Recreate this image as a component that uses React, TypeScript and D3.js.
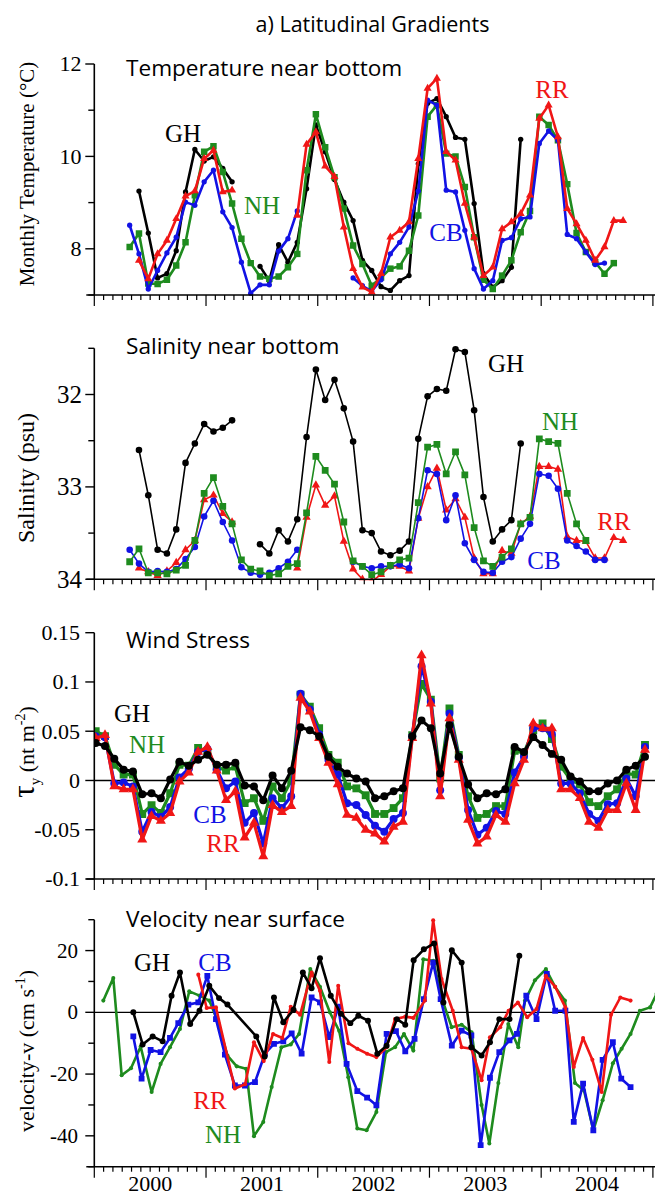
import React from "react";
import * as d3 from "d3";

const WIDTH = 655;
const HEIGHT = 1197;

// x axis: months since Jan 2000
const MONTH_DOMAIN: [number, number] = [0, 60];
const YEAR_LABELS = ["2000", "2001", "2002", "2003", "2004"];

// ---------- Temperature near bottom (°C), monthly, first month index given ----------
const TEMP_GH_START = 4;
const TEMP_GH = [9.25, 8.34, 7.37, 7.46, 7.96, 9.23, 10.15, 9.9, 9.99, 9.74, 9.45, null, null, 7.62, 7.31, 8.09, 7.71, 8.14, 9.3, 10.68, 10.1, 9.5, 9.01, 8.61, 7.75, 7.53, 7.18, 7.1, 7.31, 7.42, 9.84, 11.15, 11.25, 10.86, 10.41, 10.37, 8.98, 7.46, 7.17, 7.31, 7.6, 10.37];
const TEMP_NH_START = 3;
const TEMP_NH = [8.04, 8.33, 7.25, 7.24, 7.33, 7.64, 8.14, 9.16, 10.1, 10.22, 9.66, 8.98, 8.22, 7.69, 7.4, 7.35, 7.4, 7.6, 7.89, 9.7, 10.91, 10.2, 9.55, 8.87, 8.07, 7.67, 7.2, 7.38, 7.57, 7.62, 7.96, 8.72, 10.86, 11.11, 10.06, 10.0, 9.34, 8.25, 7.33, 7.13, 7.42, 7.75, 8.36, 8.82, 10.86, 10.68, 10.35, 9.4, 8.34, 7.93, 7.71, 7.46, 7.69];
const TEMP_CB_START = 3;
const TEMP_CB = [8.51, 7.89, 7.13, 7.53, 7.91, 8.25, 9.01, 8.94, 9.45, 9.7, 8.8, 8.46, 7.71, 7.04, 7.22, 7.22, 7.95, 8.22, 8.82, null, null, null, null, null, 7.37, 7.2, 7.08, 7.33, 7.89, 8.14, 8.47, 9.25, 11.22, 11.11, 9.27, 9.23, 8.4, 7.57, 7.13, 7.31, 8.18, 8.24, 8.65, 8.69, 10.28, 10.55, 10.35, 8.31, 8.22, 7.93, 7.66, 7.69];
const TEMP_RR_START = 4;
const TEMP_RR = [7.75, 7.35, 7.89, 8.18, 8.65, 9.14, 9.25, 9.95, 10.13, 9.23, 9.27, null, null, null, null, null, null, 8.72, 10.26, 10.53, 9.79, 9.56, 8.47, 7.57, 7.17, 7.06, 7.46, 8.25, 8.4, 8.58, 9.95, 11.47, 11.69, 10.1, 9.92, 8.98, 8.25, 7.42, 7.6, 8.43, 8.58, 8.76, 9.16, 10.82, 11.11, 10.42, 8.87, 8.54, 8.18, 7.75, 8.04, 8.61, 8.61];

// ---------- Salinity near bottom (psu) ----------
const SAL_GH_START = 4;
const SAL_GH = [32.6, 33.09, 33.68, 33.72, 33.46, 32.74, 32.53, 32.32, 32.4, 32.36, 32.28, null, null, 33.62, 33.72, 33.47, 33.59, 33.35, 32.46, 31.73, 32.06, 31.84, 32.15, 32.51, 33.47, 33.5, 33.7, 33.74, 33.69, 33.59, 32.48, 32.02, 31.94, 31.96, 31.51, 31.54, 32.17, 33.11, 33.59, 33.46, 33.36, 32.53];
const SAL_NH_START = 3;
const SAL_NH = [33.81, 33.67, 33.93, 33.93, 33.94, 33.9, 33.85, 33.58, 33.07, 32.9, 33.21, 33.4, 33.79, 33.89, 33.91, 33.96, 33.94, 33.86, 33.83, 33.28, 32.67, 32.82, 32.97, 33.38, 33.8, 33.86, 33.95, 33.92, 33.85, 33.79, 33.77, 33.17, 32.57, 32.54, 32.86, 32.62, 32.87, 33.44, 33.8, 33.86, 33.76, 33.67, 33.4, 33.33, 32.48, 32.51, 32.53, 33.07, 33.4, 33.58];
const SAL_CB_START = 3;
const SAL_CB = [33.68, 33.83, 33.92, 33.91, 33.92, 33.89, 33.78, 33.65, 33.32, 33.15, 33.38, 33.58, 33.87, 33.93, 33.95, 33.93, 33.88, 33.81, 33.68, null, null, null, null, null, 33.81, 33.86, 33.88, 33.86, 33.86, 33.84, 33.88, 33.34, 32.82, 32.86, 33.36, 33.09, 33.61, 33.79, 33.92, 33.93, 33.81, 33.76, 33.56, 33.4, 32.86, 32.88, 33.02, 33.58, 33.64, 33.7, 33.79, 33.79];
const SAL_RR_START = 4;
const SAL_RR = [33.88, 33.92, 33.96, 33.91, 33.82, 33.68, 33.58, 33.14, 33.09, 33.29, 33.38, null, null, null, null, null, null, 33.88, 33.33, 32.98, 33.2, 33.1, 33.59, 33.89, 34.0, 34.02, 33.95, 33.86, 33.86, 33.91, 33.34, 33.0, 32.8, 33.25, 33.13, 33.33, 33.77, 33.94, 33.94, 33.69, 33.72, 33.4, 33.32, 32.78, 32.78, 32.81, 33.54, 33.58, 33.59, 33.77, 33.77, 33.55, 33.58];

// ---------- Wind stress tau_y (N m-2), monthly from Jan 2000 ----------
const WIND_START = 0;
const WIND_GH = [0.038, 0.035, 0.022, 0.011, 0.009, -0.014, -0.013, -0.018, 0.001, 0.019, 0.015, 0.021, 0.026, 0.016, 0.016, 0.018, -0.005, -0.006, -0.02, 0.005, -0.008, 0.01, 0.054, 0.051, 0.045, 0.024, 0.014, 0.007, 0.002, -0.001, -0.018, -0.016, -0.011, -0.008, 0.045, 0.061, 0.053, 0.007, 0.056, 0.024, -0.004, -0.018, -0.013, -0.014, -0.009, 0.034, 0.029, 0.044, 0.036, 0.027, 0.021, 0.004, -0.001, -0.011, -0.011, -0.003, 0, 0.011, 0.015, 0.024];
const WIND_NH = [0.05, 0.045, 0.016, 0.006, 0.006, -0.034, -0.025, -0.033, -0.013, 0.016, 0.015, 0.033, 0.029, 0.014, 0.01, 0.014, -0.023, -0.018, -0.041, -0.006, -0.018, 0, 0.087, 0.075, 0.053, 0.026, 0.018, -0.006, -0.008, -0.015, -0.034, -0.034, -0.028, -0.018, 0.046, 0.098, 0.082, 0.002, 0.073, 0.026, -0.016, -0.038, -0.034, -0.026, -0.026, 0.03, 0.028, 0.051, 0.058, 0.042, 0.014, 0.001, -0.004, -0.022, -0.026, -0.016, -0.009, 0.007, 0.006, 0.036];
const WIND_CB = [0.045, 0.044, -0.003, -0.002, -0.006, -0.052, -0.032, -0.037, -0.027, 0.003, 0.012, 0.029, 0.032, 0.011, -0.008, -0.001, -0.043, -0.033, -0.064, -0.018, -0.028, -0.016, 0.088, 0.072, 0.047, 0.021, 0.006, -0.023, -0.025, -0.035, -0.046, -0.052, -0.039, -0.033, 0.045, 0.116, 0.08, -0.01, 0.068, 0.023, -0.03, -0.055, -0.048, -0.031, -0.034, 0.008, 0.024, 0.053, 0.053, 0.047, -0.003, -0.003, -0.013, -0.034, -0.041, -0.024, -0.023, 0.002, -0.016, 0.034];
const WIND_RR = [0.043, 0.046, -0.006, -0.009, -0.009, -0.06, -0.036, -0.041, -0.033, -0.001, 0.008, 0.029, 0.034, 0.01, -0.02, -0.011, -0.058, -0.043, -0.077, -0.025, -0.032, -0.026, 0.084, 0.07, 0.043, 0.018, -0.004, -0.035, -0.038, -0.05, -0.054, -0.062, -0.047, -0.042, 0.043, 0.127, 0.078, -0.016, 0.063, 0.021, -0.04, -0.064, -0.057, -0.035, -0.042, -0.003, 0.021, 0.058, 0.053, 0.053, -0.009, -0.009, -0.018, -0.042, -0.048, -0.03, -0.03, -0.003, -0.03, 0.031];

// ---------- Velocity near surface (cm s-1): [months since Jan 2000, value] ----------
const VEL_NH: [number, number][] = [[0.97, 3.8], [2.04, 11.1], [2.94, -20.4], [3.94, -18.1], [4.98, -11.1], [6.16, -25.8], [7.12, -16.7], [8.13, -11.3], [9.2, -5.4], [10.2, 6.8], [11.3, 5.4], [12.35, 3.8], [13.3, -3.2], [14.3, -14], [15.3, -17.5], [16.3, -18.3], [17.15, -40.1], [18.15, -35.5], [19.05, -24.2], [20.1, -11.3], [21.1, -10.4], [22.0, -7], [23.2, 14], [24.24, 8.3], [25.3, 0], [26.3, -6], [27.28, -21], [28.25, -37.6], [29.25, -38.2], [30.3, -32.3], [31.33, -12.9], [32.3, -11.3], [33.26, -7], [34.27, -12.4], [35.34, 17.2], [36.41, 16.7], [37.3, 4.8], [38.38, -4.8], [39.46, -4], [40.53, -6.5], [41.6, -30], [42.43, -42.5], [43.4, -22.9], [44.47, -3.8], [45.54, -11.3], [46.26, 3.8], [47.33, 10.4], [48.51, 14], [49.48, 8.3], [50.55, 3.8], [51.63, -22.9], [52.6, -25.3], [53.6, -38.2], [54.6, -28.5], [55.7, -16.5], [56.64, -11.8], [57.6, -7], [58.6, 0.5], [59.7, 1.6], [60.4, 6]];
const VEL_CB: [number, number][] = [[4.19, -7.8], [5.08, -21.5], [6.05, -12.2], [7.12, -12.9], [8.13, -8.3], [9.02, -3.5], [10.1, 2.5], [11.17, 3.2], [12.14, 11.8], [13.07, -2.2], [14.03, -13.7], [15.1, -23.7], [16.18, -23.7], [17.26, -22.6], [18.33, -13.4], [19.3, -10.2], [20.3, -9.4], [21.2, -6.8], [22.27, -13.4], [23.34, 4.8], [24.24, 3.2], [25.24, -8], [26.2, 1.8], [27.1, -16.7], [28.25, -25.5], [29.3, -27.6], [30.3, -30.1], [31.4, -7], [32.4, -6.1], [33.4, -12.6], [34.4, -8.6], [35.4, 4.3], [36.4, 16.1], [37.2, 4.3], [38.4, -10.8], [39.46, -5.9], [40.5, -7.5], [41.5, -43], [42.5, -21.2], [43.5, -12.9], [44.6, -9.1], [45.4, -7], [46.4, 5.4], [47.5, -2.2], [48.6, 12.4], [49.5, 0.5], [50.6, 0.5], [51.5, -35.5], [52.5, -23.1], [53.6, -38.2], [54.6, -15.4], [55.7, -9.7], [56.6, -21.5], [57.6, -24.2]];
const VEL_RR: [number, number][] = [[11.17, 12.2], [12.07, 1.4], [13.07, 1.6], [15.1, -24.7], [16.2, -23.3], [17.15, -9.7], [18.2, -15.8], [19.2, -7], [20.2, -8.3], [21.1, 1.8], [22.1, -0.8], [23.34, 12.9], [24.24, 7], [25.24, -16.1], [26.2, 8.6], [27.3, -10], [28.25, -11.8], [29.3, -13.4], [30.3, -14.5], [31.4, -11.3], [32.3, -2.2], [33.4, -1.4], [34.27, -1.8], [35.5, 3.8], [36.4, 29.8], [37.3, 10.8], [38.5, 0.5], [39.46, -11.3], [40.5, -11.8], [41.6, -22], [42.5, -8.1], [43.6, -4.8], [44.5, 0.5], [45.5, 3.2], [46.5, -1.6], [47.5, 1.1], [48.5, 11.8], [49.5, 8.3], [50.6, 1.6], [51.5, -17.7], [52.5, -8.3], [53.5, -15.4], [54.5, -25.8], [55.5, -0.8], [56.5, 4.8], [57.6, 3.8]];
const VEL_GH: [number, number][] = [[4.19, 0], [5.19, -10.4], [6.27, -7.8], [7.34, -9.4], [8.3, 5.4], [9.2, 12.9], [10.3, -3.8], [11.3, 0.5], [12.35, 8.6], [13.4, 4.6], [14.3, 2.5], [17.4, -7.8], [18.3, -14.3], [19.3, 4.8], [20.3, -3.2], [21.4, 0.8], [22.4, 12.9], [23.34, 7.8], [24.24, 17.5], [25.4, 5.4], [26.5, -0.5], [27.5, -3.5], [28.36, -1.1], [29.4, -2.7], [30.4, -13.4], [31.4, -10.8], [32.5, -2.2], [33.4, -4], [34.3, 16.9], [35.4, 20.4], [36.5, 22.3], [37.5, 3.2], [38.4, 20.1], [39.46, 16.1], [40.5, -11.3], [41.6, -14], [42.5, -9.7], [43.5, -2.2], [44.6, -2.2], [45.65, 18.3]];

// ---------- axis ticks ----------
const TEMP_TICKS = [8, 10, 12];
const TEMP_MINOR = [7, 9, 11];
const SAL_TICKS = [32, 33, 34];
const SAL_MINOR = [31.5, 32.5, 33.5];
const WIND_TICKS = [-0.1, -0.05, 0, 0.05, 0.1, 0.15];
const VEL_TICKS = [-40, -20, 0, 20];
const VEL_MINOR = [-50, -30, -10, 10, 30];

// ---------- styling ----------
const COLORS: Record<string, string> = { GH: "#000000", NH: "#1e8b1e", CB: "#1212e4", RR: "#f01616" };
const SERIF = "'Liberation Serif', 'Times New Roman', serif";
const SANS = "'Open Sans', 'Noto Sans', sans-serif";

type Pt = { t: number; v: number | null };
const monthly = (start: number, values: (number | null)[], offset: number): Pt[] =>
  values.map((v, i) => ({ t: start + i + offset, v }));
const paired = (pairs: [number, number][]): Pt[] => pairs.map(([t, v]) => ({ t, v }));

const xScale = d3.scaleLinear().domain(MONTH_DOMAIN).range([94.3, 652.9]);

type SeriesDef = { name: string; pts: Pt[]; marker: d3.SymbolType; size: number };
type LabelDef = { name: string; x: number; y: number };
type PanelDef = {
  id: string;
  y: d3.ScaleLinear<number, number>;
  top: number;
  bottom: number;
  ticks: number[];
  minor: number[];
  tickFmt: (v: number) => string;
  tickFont: number;
  tickX: number;
  title: string;
  titleY: number;
  zeroLine: boolean;
  lineWidth: number;
  series: SeriesDef[];
  labels: LabelDef[];
  yLabel: React.ReactNode;
  yLabelY: number;
  yLabelFont: number;
};

function Series({ s, y, lw }: { s: SeriesDef; y: d3.ScaleLinear<number, number>; lw: number }) {
  const color = COLORS[s.name];
  const line = d3
    .line<Pt>()
    .defined((d) => d.v !== null)
    .x((d) => xScale(d.t))
    .y((d) => y(d.v as number));
  const sym = d3.symbol().type(s.marker).size(s.size)() || "";
  return (
    <g>
      <path d={line(s.pts) || ""} fill="none" stroke={color} strokeWidth={lw} strokeLinejoin="round" />
      {s.pts
        .filter((d) => d.v !== null)
        .map((d, i) => (
          <path key={i} d={sym} fill={color} transform={`translate(${xScale(d.t)},${y(d.v as number)})`} />
        ))}
    </g>
  );
}

function Panel({ p, yearLabels }: { p: PanelDef; yearLabels: boolean }) {
  const x0 = xScale(0);
  const months = d3.range(MONTH_DOMAIN[0], MONTH_DOMAIN[1] + 1);
  return (
    <g>
      <defs>
        <clipPath id={`clip-${p.id}`}>
          <rect x={x0} y={p.top - 12} width={WIDTH - x0} height={p.bottom - p.top + 13} />
        </clipPath>
      </defs>
      {p.zeroLine && (
        <line x1={x0} x2={WIDTH} y1={p.y(0)} y2={p.y(0)} stroke="#000" strokeWidth={1.4} />
      )}
      <g clipPath={`url(#clip-${p.id})`}>
        {p.series.map((s) => (
          <Series key={s.name} s={s} y={p.y} lw={p.lineWidth} />
        ))}
      </g>
      {/* x axis */}
      <line x1={x0 - 8} x2={WIDTH} y1={p.bottom} y2={p.bottom} stroke="#000" strokeWidth={1.6} />
      {months.map((m) => (
        <line
          key={m}
          x1={xScale(m)}
          x2={xScale(m)}
          y1={p.bottom}
          y2={p.bottom + (m % 12 === 0 ? 11 : 5)}
          stroke="#000"
          strokeWidth={1.2}
        />
      ))}
      {/* y axis */}
      <line x1={x0} x2={x0} y1={p.top} y2={p.bottom} stroke="#000" strokeWidth={1.6} />
      {p.ticks.map((v) => (
        <g key={`t${v}`}>
          <line x1={x0 - 9} x2={x0} y1={p.y(v)} y2={p.y(v)} stroke="#000" strokeWidth={1.4} />
          <text
            x={p.tickX}
            y={p.y(v) + p.tickFont * 0.34}
            textAnchor="end"
            fontFamily={SERIF}
            fontSize={p.tickFont}
          >
            {p.tickFmt(v)}
          </text>
        </g>
      ))}
      {p.minor.map((v) => (
        <line key={`m${v}`} x1={x0 - 6} x2={x0} y1={p.y(v)} y2={p.y(v)} stroke="#000" strokeWidth={1.4} />
      ))}
      {yearLabels &&
        YEAR_LABELS.map((lab, i) => (
          <text key={lab} x={xScale(i * 12 + 6)} y={1191} textAnchor="middle" fontFamily={SERIF} fontSize={22}>
            {lab}
          </text>
        ))}
      {/* title */}
      <text x={126} y={p.titleY} fontFamily={SANS} fontSize={22.6}>
        {p.title}
      </text>
      {/* series labels */}
      {p.labels.map((l) => (
        <text
          key={l.name}
          x={l.x}
          y={l.y + 8.2}
          textAnchor="middle"
          fontFamily={SERIF}
          fontSize={25}
          fill={COLORS[l.name]}
        >
          {l.name}
        </text>
      ))}
      {/* y label */}
      <text
        transform={`translate(33.5,${p.yLabelY}) rotate(-90)`}
        textAnchor="middle"
        fontFamily={SERIF}
        fontSize={p.yLabelFont}
      >
        {p.yLabel}
      </text>
    </g>
  );
}

export default function App() {
  const circ = d3.symbolCircle;
  const sq = d3.symbolSquare;
  const tri = d3.symbolTriangle;

  const panels: PanelDef[] = [
    {
      id: "temp",
      y: d3.scaleLinear().domain([7, 12]).range([295, 64]),
      top: 64,
      bottom: 295,
      ticks: TEMP_TICKS,
      minor: TEMP_MINOR,
      tickFmt: (v) => String(v),
      tickFont: 22,
      tickX: 81.5,
      title: "Temperature near bottom",
      titleY: 76,
      zeroLine: false,
      lineWidth: 2.6,
      series: [
        { name: "GH", pts: monthly(TEMP_GH_START, TEMP_GH, 0.8), marker: circ, size: 22 },
        { name: "NH", pts: monthly(TEMP_NH_START, TEMP_NH, 0.8), marker: sq, size: 42 },
        { name: "CB", pts: monthly(TEMP_CB_START, TEMP_CB, 0.8), marker: circ, size: 22 },
        { name: "RR", pts: monthly(TEMP_RR_START, TEMP_RR, 0.8), marker: tri, size: 28 },
      ],
      labels: [
        { name: "GH", x: 183, y: 134 },
        { name: "NH", x: 262, y: 206 },
        { name: "CB", x: 446, y: 233 },
        { name: "RR", x: 552, y: 90 },
      ],
      yLabel: "Monthly Temperature (°C)",
      yLabelY: 174,
      yLabelFont: 21,
    },
    {
      id: "sal",
      y: d3.scaleLinear().domain([31.5, 34]).range([348.3, 579.3]),
      top: 348.3,
      bottom: 579.3,
      ticks: SAL_TICKS,
      minor: SAL_MINOR,
      tickFmt: (v) => String(v),
      tickFont: 25,
      tickX: 82,
      title: "Salinity near bottom",
      titleY: 353.5,
      zeroLine: false,
      lineWidth: 1.6,
      series: [
        { name: "GH", pts: monthly(SAL_GH_START, SAL_GH, 0.8), marker: circ, size: 34 },
        { name: "RR", pts: monthly(SAL_RR_START, SAL_RR, 0.8), marker: tri, size: 30 },
        { name: "CB", pts: monthly(SAL_CB_START, SAL_CB, 0.8), marker: circ, size: 34 },
        { name: "NH", pts: monthly(SAL_NH_START, SAL_NH, 0.8), marker: sq, size: 46 },
      ],
      labels: [
        { name: "GH", x: 506, y: 364 },
        { name: "NH", x: 560, y: 422 },
        { name: "RR", x: 614, y: 522 },
        { name: "CB", x: 544, y: 561 },
      ],
      yLabel: "Salinity (psu)",
      yLabelY: 478,
      yLabelFont: 24,
    },
    {
      id: "wind",
      y: d3.scaleLinear().domain([-0.1, 0.15]).range([879, 632.7]),
      top: 632.7,
      bottom: 879,
      ticks: WIND_TICKS,
      minor: [],
      tickFmt: (v) => String(v),
      tickFont: 22,
      tickX: 80,
      title: "Wind Stress",
      titleY: 648,
      zeroLine: true,
      lineWidth: 3.2,
      series: [
        { name: "NH", pts: monthly(WIND_START, WIND_NH, 0.15), marker: sq, size: 62 },
        { name: "CB", pts: monthly(WIND_START, WIND_CB, 0.15), marker: circ, size: 50 },
        { name: "RR", pts: monthly(WIND_START, WIND_RR, 0.15), marker: tri, size: 44 },
        { name: "GH", pts: monthly(WIND_START, WIND_GH, 0.15), marker: circ, size: 50 },
      ],
      labels: [
        { name: "GH", x: 132, y: 714 },
        { name: "NH", x: 147, y: 745 },
        { name: "CB", x: 210, y: 815 },
        { name: "RR", x: 223, y: 844 },
      ],
      yLabel: (
        <>
          <tspan fontSize={31}>τ</tspan>
          <tspan fontSize={15} dy={6}>y</tspan>
          <tspan dy={-6}> (nt m</tspan>
          <tspan fontSize={14} dy={-9}>-2</tspan>
          <tspan dy={9}>)</tspan>
        </>
      ),
      yLabelY: 752,
      yLabelFont: 22,
    },
    {
      id: "vel",
      y: d3.scaleLinear().domain([-50, 30]).range([1166.7, 919.7]),
      top: 919.7,
      bottom: 1166.7,
      ticks: VEL_TICKS,
      minor: VEL_MINOR,
      tickFmt: (v) => String(v),
      tickFont: 21,
      tickX: 78,
      title: "Velocity near surface",
      titleY: 927,
      zeroLine: true,
      lineWidth: 2.6,
      series: [
        { name: "NH", pts: paired(VEL_NH), marker: circ, size: 13 },
        { name: "CB", pts: paired(VEL_CB), marker: sq, size: 34 },
        { name: "RR", pts: paired(VEL_RR), marker: circ, size: 13 },
        { name: "GH", pts: paired(VEL_GH), marker: circ, size: 28 },
      ],
      labels: [
        { name: "GH", x: 152, y: 963 },
        { name: "CB", x: 215, y: 963 },
        { name: "RR", x: 210, y: 1101 },
        { name: "NH", x: 223, y: 1135 },
      ],
      yLabel: (
        <>
          <tspan>velocity-v (cm s</tspan>
          <tspan fontSize={14} dy={-9}>-1</tspan>
          <tspan dy={9}>)</tspan>
        </>
      ),
      yLabelY: 1051,
      yLabelFont: 22,
    },
  ];

  return (
    <svg
      width={WIDTH}
      height={HEIGHT}
      viewBox={`0 0 ${WIDTH} ${HEIGHT}`}
      style={{ position: "absolute", left: 0, top: 0, background: "#fff" }}
    >
      <rect width={WIDTH} height={HEIGHT} fill="#fff" />
      <text x={372.5} y={32} textAnchor="middle" fontFamily={SANS} fontSize={21.5}>
        a) Latitudinal Gradients
      </text>
      {panels.map((p, i) => (
        <Panel key={p.id} p={p} yearLabels={i === panels.length - 1} />
      ))}
    </svg>
  );
}
